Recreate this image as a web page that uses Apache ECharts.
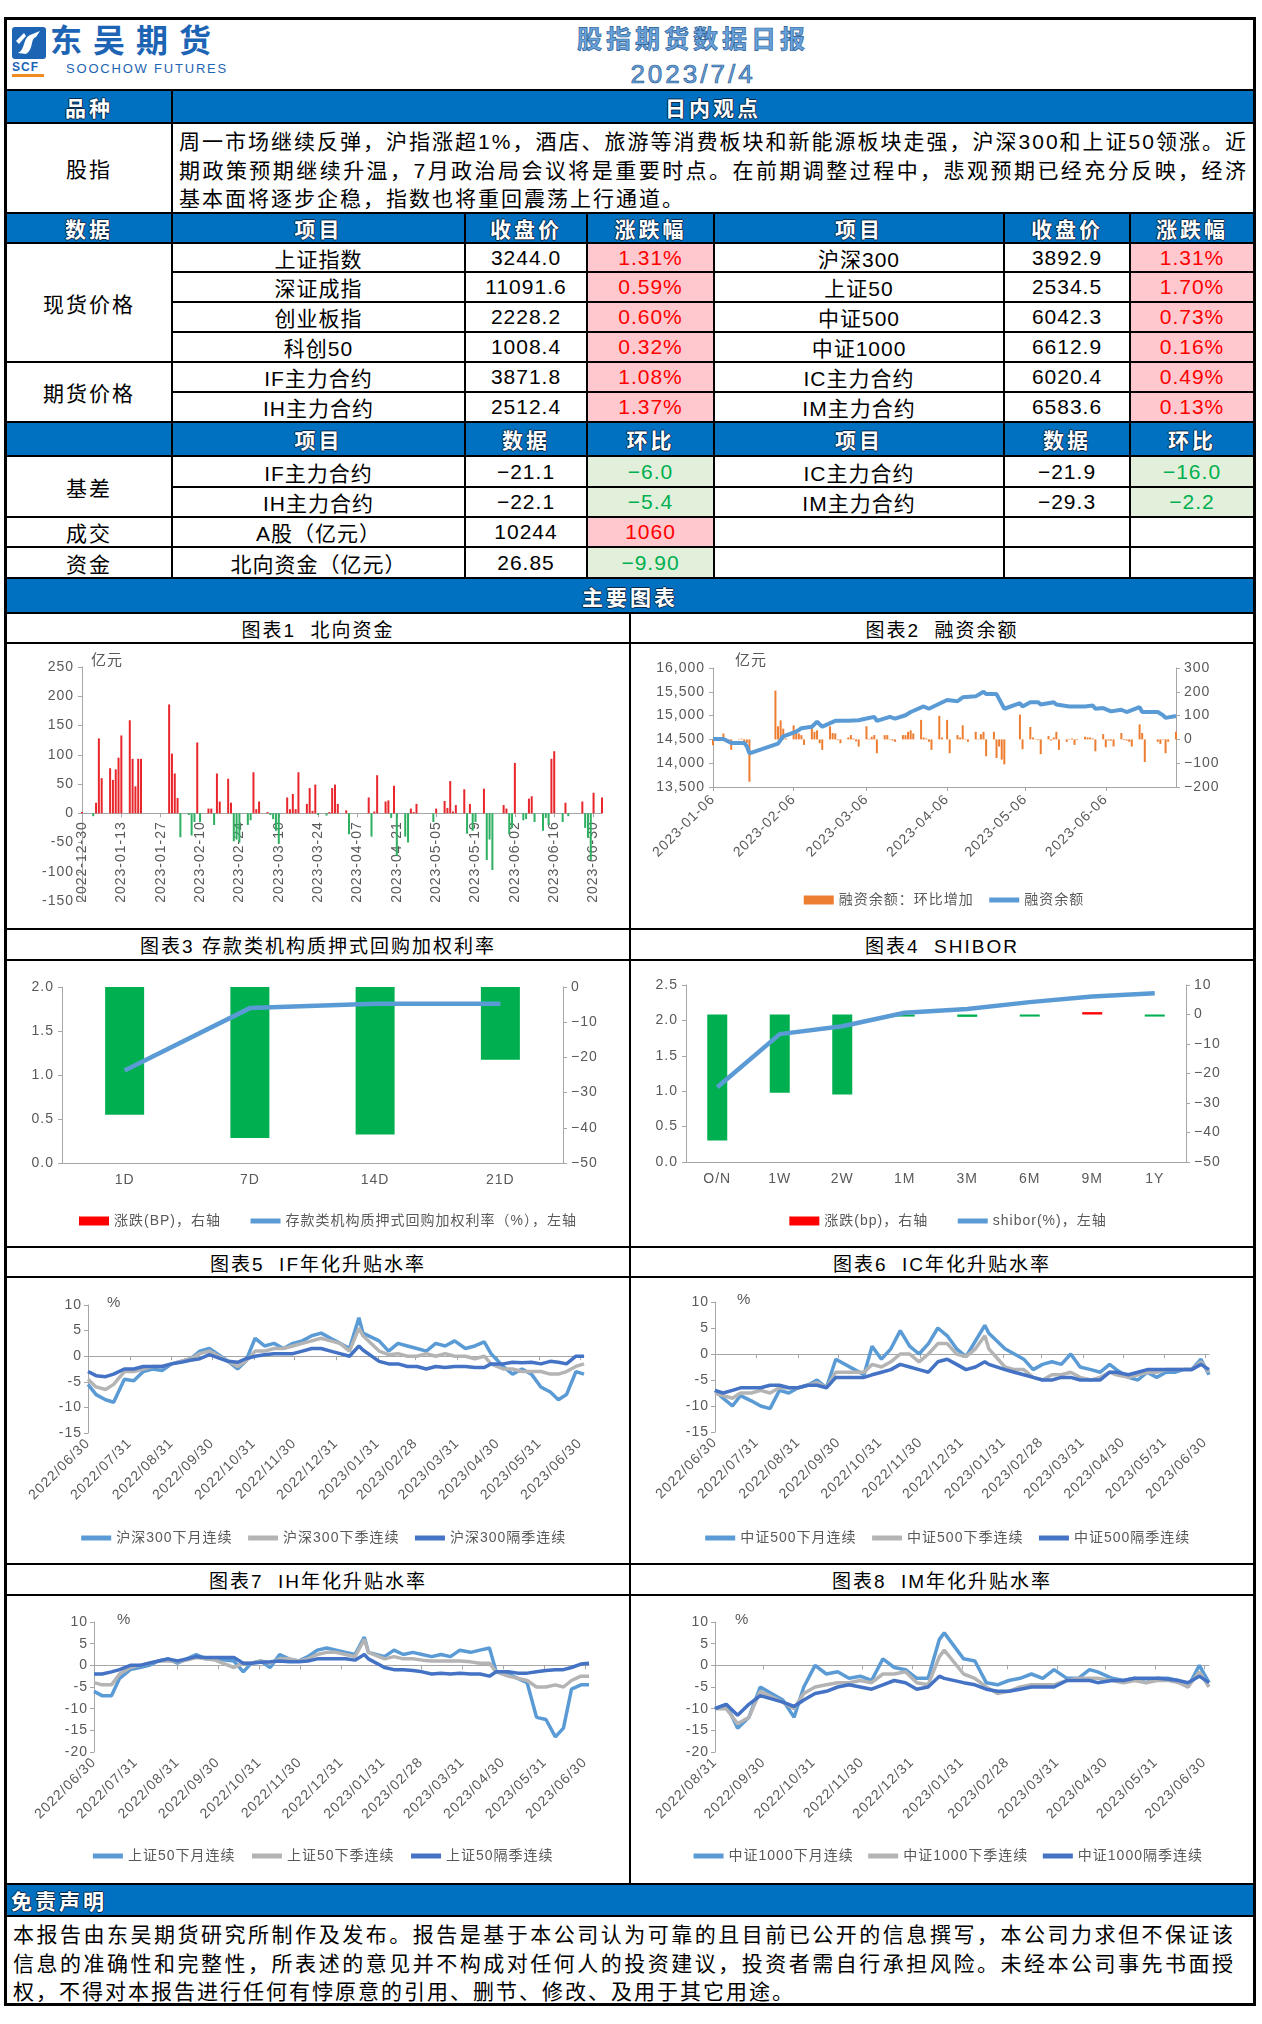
<!DOCTYPE html>
<html>
<head>
<meta charset="utf-8">
<title>股指期货数据日报</title>
<script src="https://cdn.jsdelivr.net/npm/echarts@6.0.0/dist/echarts.min.js"></script>
<style>
  html, body { margin: 0; padding: 0; background: #fff; }
  body { width: 1262px; height: 2024px; position: relative; overflow: hidden;
         font-family: 'Liberation Sans', 'Noto Sans CJK SC', sans-serif; }
  .b { position: absolute; box-sizing: border-box; border: 1px solid #000; display: flex;
       align-items: center; justify-content: center; font-size: 21px; letter-spacing: 1px;
       white-space: nowrap; overflow: hidden; background: #fff; color: #000; }
  .hd { background: #0070c0; color: #fff; font-weight: bold; letter-spacing: 3px;
        text-shadow: -1px 0 #0b2a4a, 1px 0 #0b2a4a, 0 1px #0b2a4a, 0 -1px #0b2a4a; }
  .up { background: #ffc7ce; color: #ff0000; }
  .dn { background: #e2efda; color: #00b050; }
  .tt { font-size: 19px; letter-spacing: 2px; }
  .lbl { letter-spacing: 2px; }
  .left { justify-content: flex-start; padding-left: 4px; }
  .para { display: block; padding: 4px 5px 0 6px; letter-spacing: 2px; line-height: 28.5px; white-space: normal; }
  .para .j { text-align: justify; text-align-last: justify; }
  .ch { position: absolute; left: 0; top: 0; width: 100%; height: 100%; }
  .abs { position: absolute; white-space: nowrap; }
</style>
</head>
<body>
<script>
// ---------- table data ----------
var spotNamesL = ['上证指数', '深证成指', '创业板指', '科创50'];
var spotCloseL = [3244.0, 11091.6, 2228.2, 1008.4];
var spotChgL = [1.31, 0.59, 0.60, 0.32];
var spotNamesR = ['沪深300', '上证50', '中证500', '中证1000'];
var spotCloseR = [3892.9, 2534.5, 6042.3, 6612.9];
var spotChgR = [1.31, 1.70, 0.73, 0.16];
var futNamesL = ['IF主力合约', 'IH主力合约'];
var futCloseL = [3871.8, 2512.4];
var futChgL = [1.08, 1.37];
var futNamesR = ['IC主力合约', 'IM主力合约'];
var futCloseR = [6020.4, 6583.6];
var futChgR = [0.49, 0.13];
var basisNamesL = ['IF主力合约', 'IH主力合约'];
var basisValL = [-21.1, -22.1];
var basisChgL = [-6.0, -5.4];
var basisNamesR = ['IC主力合约', 'IM主力合约'];
var basisValR = [-21.9, -29.3];
var basisChgR = [-16.0, -2.2];
var turnover = ['A股（亿元）', 10244, 1060];
var northFlow = ['北向资金（亿元）', 26.85, -9.90];

var viewLines = [
  '周一市场继续反弹，沪指涨超1%，酒店、旅游等消费板块和新能源板块走强，沪深300和上证50领涨。近',
  '期政策预期继续升温，7月政治局会议将是重要时点。在前期调整过程中，悲观预期已经充分反映，经济',
  '基本面将逐步企稳，指数也将重回震荡上行通道。'
];
var disclaimerLines = [
  '本报告由东吴期货研究所制作及发布。报告是基于本公司认为可靠的且目前已公开的信息撰写，本公司力求但不保证该',
  '信息的准确性和完整性，所表述的意见并不构成对任何人的投资建议，投资者需自行承担风险。未经本公司事先书面授',
  '权，不得对本报告进行任何有悖原意的引用、删节、修改、及用于其它用途。'
];

// ---------- chart 1: 北向资金 ----------
var nbDates = ['2022-12-30','2023-01-03','2023-01-04','2023-01-05','2023-01-06','2023-01-09','2023-01-10','2023-01-11','2023-01-12','2023-01-13',
  '2023-01-16','2023-01-17','2023-01-18','2023-01-19','2023-01-20','2023-01-30','2023-01-31','2023-02-01','2023-02-02','2023-02-03',
  '2023-02-06','2023-02-07','2023-02-08','2023-02-09','2023-02-10','2023-02-13','2023-02-14','2023-02-15','2023-02-16','2023-02-17',
  '2023-02-20','2023-02-21','2023-02-22','2023-02-23','2023-02-24','2023-02-27','2023-02-28','2023-03-01','2023-03-02','2023-03-03',
  '2023-03-06','2023-03-07','2023-03-08','2023-03-09','2023-03-10','2023-03-13','2023-03-14','2023-03-15','2023-03-16','2023-03-17',
  '2023-03-20','2023-03-21','2023-03-22','2023-03-23','2023-03-24','2023-03-27','2023-03-28','2023-03-29','2023-03-30','2023-03-31',
  '2023-04-03','2023-04-04','2023-04-11','2023-04-12','2023-04-13','2023-04-14','2023-04-17','2023-04-18','2023-04-19','2023-04-20',
  '2023-04-21','2023-04-24','2023-04-25','2023-04-26','2023-04-27','2023-04-28','2023-05-04','2023-05-05','2023-05-08','2023-05-09',
  '2023-05-10','2023-05-11','2023-05-12','2023-05-15','2023-05-16','2023-05-17','2023-05-18','2023-05-19','2023-05-22','2023-05-23',
  '2023-05-24','2023-05-25','2023-05-29','2023-05-30','2023-05-31','2023-06-01','2023-06-02','2023-06-05','2023-06-06','2023-06-07',
  '2023-06-08','2023-06-09','2023-06-12','2023-06-13','2023-06-14','2023-06-15','2023-06-16','2023-06-19','2023-06-20','2023-06-21',
  '2023-06-26','2023-06-27','2023-06-28','2023-06-29','2023-06-30','2023-07-03'];
var nbValues = [2,-5,18,128,60,77,57,75,95,133,
  159,93,46,93,93,186,102,68,26,-41,
  -3,-38,-15,121,-15,8,8,-20,68,20,
  59,18,-48,-45,-50,-20,-12,70,7,20,
  2,-3,-10,-30,-52,27,7,33,7,70,
  16,43,4,49,-3,-4,2,43,49,16,
  5,-36,27,-40,3,65,20,22,-8,47,
  -73,-40,-50,8,2,16,-15,8,21,9,
  55,3,14,41,-35,16,-30,-15,42,-80,
  -45,-97,14,8,-36,-25,86,-12,-10,25,
  29,-15,-30,-8,-20,93,106,-15,18,-5,
  20,-25,-42,-80,35,27];
var nbTicks = ['2022-12-30','2023-01-13','2023-01-27','2023-02-10','2023-02-24','2023-03-10','2023-03-24',
  '2023-04-07','2023-04-21','2023-05-05','2023-05-19','2023-06-02','2023-06-16','2023-06-30'];

// ---------- chart 2: 融资余额 ----------
var finBarDates = ['2023-01-06','2023-01-09','2023-01-10','2023-01-11','2023-01-12','2023-01-13','2023-01-16','2023-01-17','2023-01-18','2023-01-19',
  '2023-01-20','2023-01-30','2023-01-31','2023-02-01','2023-02-02','2023-02-03','2023-02-06','2023-02-07','2023-02-08','2023-02-09',
  '2023-02-10','2023-02-13','2023-02-14','2023-02-15','2023-02-16','2023-02-17','2023-02-20','2023-02-21','2023-02-22','2023-02-23',
  '2023-02-24','2023-02-27','2023-02-28','2023-03-01','2023-03-02','2023-03-03','2023-03-06','2023-03-07','2023-03-08','2023-03-09',
  '2023-03-10','2023-03-13','2023-03-14','2023-03-15','2023-03-16','2023-03-17','2023-03-20','2023-03-21','2023-03-22','2023-03-23',
  '2023-03-24','2023-03-27','2023-03-28','2023-03-29','2023-03-30','2023-03-31','2023-04-03','2023-04-04','2023-04-06','2023-04-07',
  '2023-04-10','2023-04-11','2023-04-12','2023-04-13','2023-04-14','2023-04-17','2023-04-18','2023-04-19','2023-04-20','2023-04-21',
  '2023-04-24','2023-04-25','2023-04-26','2023-04-27','2023-04-28','2023-05-04','2023-05-05','2023-05-08','2023-05-09','2023-05-10',
  '2023-05-11','2023-05-12','2023-05-15','2023-05-16','2023-05-17','2023-05-18','2023-05-19','2023-05-22','2023-05-23','2023-05-24',
  '2023-05-25','2023-05-26','2023-05-29','2023-05-30','2023-05-31','2023-06-01','2023-06-02','2023-06-05','2023-06-06','2023-06-07',
  '2023-06-08','2023-06-09','2023-06-12','2023-06-13','2023-06-14','2023-06-15','2023-06-16','2023-06-19','2023-06-20','2023-06-21',
  '2023-06-26','2023-06-27','2023-06-28','2023-06-29','2023-06-30','2023-07-03'];
var finBarValues = [-25,5,25,3,-5,-44,2,3,-15,-15,
  -178,205,55,80,45,4,59,38,25,18,
  -23,52,32,38,-16,-44,55,27,25,-3,
  -16,8,18,4,-8,-30,55,2,11,18,
  -58,18,18,2,-5,-10,18,18,32,38,
  25,82,8,4,-10,-44,99,8,82,-58,
  18,8,59,2,-10,32,2,22,32,-71,
  32,-78,-30,-85,-105,104,-41,52,8,2,
  -3,-62,14,-5,8,32,-44,-10,2,4,
  -23,-3,11,8,8,4,-50,22,-33,-5,
  -5,-30,27,-3,-5,-10,-30,63,27,-95,
  -10,-19,2,-58,-10,32];
var finLineDates = ['2023-01-06','2023-01-10','2023-01-13','2023-01-18','2023-01-19','2023-01-20','2023-01-31','2023-02-02','2023-02-07','2023-02-09',
  '2023-02-13','2023-02-15','2023-02-17','2023-02-22','2023-02-27','2023-03-03','2023-03-06','2023-03-09','2023-03-10','2023-03-15',
  '2023-03-17','2023-03-21','2023-03-23','2023-03-28','2023-03-30','2023-04-06','2023-04-10','2023-04-12','2023-04-17','2023-04-20',
  '2023-04-21','2023-04-25','2023-04-28','2023-05-04','2023-05-05','2023-05-08','2023-05-11','2023-05-12','2023-05-17','2023-05-18',
  '2023-05-23','2023-05-29','2023-06-01','2023-06-02','2023-06-05','2023-06-08','2023-06-12','2023-06-14','2023-06-19','2023-06-20',
  '2023-06-26','2023-06-28','2023-06-29','2023-07-03'];
var finLineValues = [14507,14507,14425,14425,14356,14206,14411,14562,14664,14733,
  14767,14870,14767,14890,14890,14904,14938,14973,14890,14973,
  14938,15007,15075,15192,15144,15329,15301,15384,15404,15500,
  15452,15452,15144,15260,15192,15281,15281,15233,15281,15233,
  15192,15192,15212,15144,15158,15089,15123,15075,15178,15075,
  15075,15007,14952,14993];
var finTicks = ['2023-01-06','2023-02-06','2023-03-06','2023-04-06','2023-05-06','2023-06-06'];

// ---------- chart 3: 存款类机构质押式回购 ----------
var repoTerms = ['1D', '7D', '14D', '21D'];
var repoRate = [1.05, 1.76, 1.81, 1.81];
var repoChg = [-36.3, -42.9, -41.9, -20.7];

// ---------- chart 4: SHIBOR ----------
var shiborTerms = ['O/N', '1W', '2W', '1M', '3M', '6M', '9M', '1Y'];
var shiborRate = [1.057, 1.806, 1.918, 2.109, 2.160, 2.258, 2.337, 2.384];
var shiborChg = [-42.7, -26.5, -27.1, -0.7, -0.8, -0.7, 0.8, -0.7];

// ---------- charts 5-7: 年化升贴水率 ----------
var spreadDates = ['2022/06/30','2022/07/06','2022/07/13','2022/07/19','2022/07/27','2022/08/03','2022/08/10','2022/08/17','2022/08/24','2022/08/31',
  '2022/09/07','2022/09/14','2022/09/21','2022/09/28','2022/10/12','2022/10/19','2022/10/25','2022/11/01','2022/11/08','2022/11/15',
  '2022/11/22','2022/11/29','2022/12/06','2022/12/13','2022/12/20','2022/12/27','2023/01/03','2023/01/10','2023/01/17','2023/01/20',
  '2023/02/01','2023/02/08','2023/02/15','2023/02/22','2023/03/01','2023/03/08','2023/03/15','2023/03/22','2023/03/29','2023/04/06',
  '2023/04/13','2023/04/20','2023/04/25','2023/05/04','2023/05/11','2023/05/18','2023/05/25','2023/06/01','2023/06/08','2023/06/14',
  '2023/06/20','2023/06/27','2023/07/03'];
var spreadTicks = ['2022/06/30','2022/07/31','2022/08/31','2022/09/30','2022/10/31','2022/11/30','2022/12/31',
  '2023/01/31','2023/02/28','2023/03/31','2023/04/30','2023/05/31','2023/06/30'];

var ifNext = [-5.5,-7.5,-8.5,-9,-4.5,-4.8,-3,-2.5,-2.8,-1.5,-1,-0.5,1,1.5,-1,-2.5,-1,3.5,2,2.5,
  1.5,2.5,3,4,4.5,3.5,2.5,1.5,7.5,4.5,3,1,2.5,2,1.5,1,2.5,2,3,1.5,
  2,2.8,0.5,-2,-3.5,-2.5,-3.5,-6,-7,-8.5,-7.5,-3,-3.5];
var ifQtr = [-4.5,-6,-6.5,-5.5,-3,-3,-2.5,-2,-2,-1.5,-1,-0.5,0.5,1,-1,-2,-1,1,1,1.5,
  1.5,2,2.5,3,3.5,3,2.5,1,5.5,4,1,0.3,0.5,0,0,0.5,0,0.5,0,0,
  -0.5,0,-1.5,-2.5,-2.5,-3,-3,-3,-3.5,-3.5,-3,-2,-1.5];
var ifFar = [-3,-3.8,-4,-3.5,-2.5,-2.5,-2,-2,-2,-1.5,-1.2,-0.8,-0.5,0.3,-1,-1.2,-0.5,0,0.3,0.5,
  0.5,0.5,1,1.5,1.5,1,0.5,0,2,1.2,-1,-1.5,-1.5,-2,-2,-2.5,-2,-2.2,-2,-2,
  -2.2,-2.2,-1.5,-1.5,-1.2,-1.3,-1.2,-1.5,-1,-1.2,-1.5,0,0];

var icNext = [-7,-8.5,-10,-8,-9,-10,-10.5,-7,-7.5,-6.5,-6,-5,-6.5,-1,-3,-4,1.5,-1,1,4.5,
  1.5,0,2,5,3.5,1,-0.5,2.5,5.5,4,1,0,-1,-3,-2,-1.5,-2,0,-2.5,-3,
  -3.5,-2,-3,-4.5,-5,-3.5,-4.5,-3.5,-3.5,-3,-3,-1,-4];
var icQtr = [-7.5,-8,-8.5,-7.5,-7.5,-7,-7.5,-6.5,-6.5,-6.5,-6,-5.5,-6.5,-3.5,-3.5,-3.5,-2,-2.5,-1.5,0,
  0,-1.5,0,2,2,0,-0.5,1,3.5,1,-2.5,-3,-3,-4.5,-5,-4,-4,-3.5,-4.5,-5,
  -4.5,-3.5,-4,-4.5,-4,-3.5,-3.5,-3,-3,-3,-3,-1.5,-3.5];
var icFar = [-7,-7.5,-7,-6.5,-6.5,-6.5,-6,-6,-6.5,-6.5,-6,-6,-6.5,-4.5,-4.5,-4.5,-4,-3.5,-3,-2,
  -2.5,-3,-3.5,-1.5,-1,-2,-3,-2.5,-1.5,-2,-3,-3.5,-4,-4.5,-5,-5,-4.5,-4.5,-5,-5,
  -5,-3.5,-3.5,-4,-3.5,-3,-3,-3,-3,-3,-3,-2,-3];

var ihNext = [-6,-7,-7,-3,-1,-0.5,0,1,1.5,0.5,1.5,2.5,1.5,1.5,1,-1.5,0.5,1,-0.5,2.5,
  1.5,1,2,3.5,4,3.5,3,2.5,6.5,3,2,3.5,2.5,3,2.5,2,2.5,2,3.5,3,
  3.5,4,-1.5,-2,-3,-4,-12,-12.5,-16.5,-14.5,-5.5,-4.5,-4.5];
var ihQtr = [-4,-4.5,-4.5,-2,-0.5,0,0.5,1,1,0.8,1.2,1.8,1.5,1.2,-0.5,0.5,0.5,1,0.5,1.5,
  1.5,1,1.5,2.5,3,3,2.5,2,6,3,1.5,2,1.5,1.5,1.2,1,1,1,1,0.8,
  0.5,0.5,-1.5,-2.5,-3,-3.5,-5,-5,-4.5,-5,-3.5,-2.5,-2.5];
var ihFar = [-2,-2,-1.5,-1,0,0,0.5,1,1.5,1,1.5,2,1.8,1.8,1.8,0.5,0.5,0.7,0.8,1,
  0.8,0.8,1,1.5,1.5,1.5,1.5,1.2,2.5,1.5,-0.5,-1,-1,-1.2,-1.5,-2,-1.8,-2,-1.8,-2,
  -2,-2.5,-1.5,-1.5,-1.8,-1.8,-1.5,-1.2,-1,-1,-0.5,0.3,0.5];

// ---------- chart 8: IM ----------
var imDates = ['2022/08/31','2022/09/07','2022/09/14','2022/09/21','2022/09/28','2022/10/12','2022/10/19','2022/10/25','2022/11/01','2022/11/08',
  '2022/11/15','2022/11/22','2022/11/29','2022/12/06','2022/12/13','2022/12/20','2022/12/27','2023/01/03','2023/01/10','2023/01/17',
  '2023/01/20','2023/02/01','2023/02/08','2023/02/15','2023/02/22','2023/03/01','2023/03/08','2023/03/15','2023/03/22','2023/03/29',
  '2023/04/06','2023/04/13','2023/04/20','2023/04/25','2023/05/04','2023/05/11','2023/05/18','2023/05/25','2023/06/01','2023/06/08',
  '2023/06/14','2023/06/20','2023/06/27','2023/07/03'];
var imTicks = ['2022/08/31','2022/09/30','2022/10/31','2022/11/30','2022/12/31',
  '2023/01/31','2023/02/28','2023/03/31','2023/04/30','2023/05/31','2023/06/30'];
var imNext = [-10,-9,-14.5,-12,-5,-8,-12,-5,0,-2,-1.5,-3,-2.5,-3.5,1.5,-0.5,-1,-3,-3,6,
  7.5,1.5,1,-4,-4.5,-3.5,-3,-2,-3,-1,-3,-3,-1,-1.5,-3,-3.5,-3,-4,-3,-3,
  -3.5,-5,0,-4];
var imQtr = [-10,-10,-13.5,-12,-6,-8.5,-10,-6.5,-5,-4.5,-4,-4,-3.5,-4,-2,-2,-1.5,-4,-4.5,2,
  3.5,-2,-3,-5,-6.5,-6,-5,-4.5,-4.5,-4.5,-3.5,-3,-3,-3,-3.5,-4,-3.5,-4,-3.5,-3.5,
  -4,-5,-1.5,-5];
var imFar = [-10,-9,-11.5,-9,-7,-8.5,-9.5,-8,-6.5,-6,-5,-4.5,-5,-5.5,-4.5,-3.5,-4,-5.5,-5,-2.5,
  -3,-4,-4.5,-5.5,-6,-6,-5.5,-5,-5,-5,-3.5,-3.5,-3.5,-4,-3.5,-3.5,-3,-3,-3,-3.2,
  -3.5,-4,-2.5,-4];

// ---------- layout ----------
var C = [6, 172, 465, 587, 714, 1004, 1130, 1254];
var FONT = "'Liberation Sans','Noto Sans CJK SC',sans-serif";
var GRAY = '#595959';
var AXC = '#A6A6A6';
var RED = '#E8262B';
var GREEN = '#2EAF62';

function box(x1, y1, x2, y2, html, cls) {
  var d = document.createElement('div');
  d.className = 'b ' + (cls || '');
  d.style.left = x1 + 'px';
  d.style.top = y1 + 'px';
  d.style.width = (x2 - x1) + 'px';
  d.style.height = (y2 - y1) + 'px';
  d.innerHTML = html == null ? '' : html;
  document.body.appendChild(d);
  return d;
}
function abs(x, y, html, css) {
  var d = document.createElement('div');
  d.className = 'abs';
  d.style.left = x + 'px';
  d.style.top = y + 'px';
  d.style.cssText += css;
  d.innerHTML = html;
  document.body.appendChild(d);
  return d;
}
function fmt(v, n) { return v.toFixed(n).replace('-', '−'); }

// outer frame
var fr = document.createElement('div');
fr.style.cssText = 'position:absolute;left:4px;top:17px;width:1252px;height:1989px;box-sizing:border-box;border:2px solid #000;';
document.body.appendChild(fr);

// header
box(6, 19, 1254, 90, '');
abs(12, 27, '<svg width="34" height="32" viewBox="0 0 34 32"><rect x="0" y="0" width="34" height="32" rx="3" fill="#1d64b4"/>' +
  '<path d="M6 26 C14 22 10 12 18 8 L28 4 L24 10 C18 12 22 22 14 27 Z" fill="#fff"/>' +
  '<path d="M4 14 L12 6 L14 9 L7 17 Z" fill="#fff"/></svg>', '');
abs(12, 60, 'SCF', 'font:bold 12px ' + FONT + ';color:#1d64b4;letter-spacing:1px;');
abs(12, 74, '', 'width:32px;height:3px;background:#f08c1e;');
abs(50, 22, '东吴期货', 'font:bold 32px ' + FONT + ';color:#1d64b4;letter-spacing:11px;line-height:38px;');
abs(66, 61, 'SOOCHOW FUTURES', 'font:13px ' + FONT + ';color:#1d64b4;letter-spacing:1.8px;');
abs(440, 23, '股指期货数据日报', 'width:506px;text-align:center;font:bold 25px ' + FONT +
  ';letter-spacing:4px;line-height:32px;color:#6aa3dc;-webkit-text-stroke:0.7px #2a5d93;');
abs(440, 58, '2023/7/4', 'width:506px;text-align:center;font:26px ' + FONT +
  ';letter-spacing:3px;line-height:32px;color:#6aa3dc;-webkit-text-stroke:0.7px #2a5d93;');

box(C[0], 90, C[1], 123, '品种', 'hd');
box(C[1], 90, C[7], 123, '日内观点', 'hd');
box(C[0], 123, C[1], 213, '股指', 'lbl');
box(C[1], 123, C[7], 213, '<div class="j">' + viewLines[0] + '</div><div class="j">' + viewLines[1] +
  '</div><div>' + viewLines[2] + '</div>', 'para');

// spot / futures table
['数据', '项目', '收盘价', '涨跌幅', '项目', '收盘价', '涨跌幅'].forEach(function (t, i) {
  box(C[i], 213, C[i + 1], 243, t, 'hd');
});
var rowY = [243, 272, 302, 332, 362, 392, 422];
var namesL = spotNamesL.concat(futNamesL), closeL = spotCloseL.concat(futCloseL), chgL = spotChgL.concat(futChgL);
var namesR = spotNamesR.concat(futNamesR), closeR = spotCloseR.concat(futCloseR), chgR = spotChgR.concat(futChgR);
box(C[0], 243, C[1], 362, '现货价格', 'lbl');
box(C[0], 362, C[1], 422, '期货价格', 'lbl');
for (var r = 0; r < 6; r++) {
  var y1 = rowY[r], y2 = rowY[r + 1];
  box(C[1], y1, C[2], y2, namesL[r]);
  box(C[2], y1, C[3], y2, fmt(closeL[r], 1));
  box(C[3], y1, C[4], y2, fmt(chgL[r], 2) + '%', chgL[r] >= 0 ? 'up' : 'dn');
  box(C[4], y1, C[5], y2, namesR[r]);
  box(C[5], y1, C[6], y2, fmt(closeR[r], 1));
  box(C[6], y1, C[7], y2, fmt(chgR[r], 2) + '%', chgR[r] >= 0 ? 'up' : 'dn');
}
['', '项目', '数据', '环比', '项目', '数据', '环比'].forEach(function (t, i) {
  box(C[i], 422, C[i + 1], 456, t, 'hd');
});
var bY = [456, 487, 517];
box(C[0], 456, C[1], 517, '基差', 'lbl');
for (var k = 0; k < 2; k++) {
  box(C[1], bY[k], C[2], bY[k + 1], basisNamesL[k]);
  box(C[2], bY[k], C[3], bY[k + 1], fmt(basisValL[k], 1));
  box(C[3], bY[k], C[4], bY[k + 1], fmt(basisChgL[k], 1), basisChgL[k] >= 0 ? 'up' : 'dn');
  box(C[4], bY[k], C[5], bY[k + 1], basisNamesR[k]);
  box(C[5], bY[k], C[6], bY[k + 1], fmt(basisValR[k], 1));
  box(C[6], bY[k], C[7], bY[k + 1], fmt(basisChgR[k], 1), basisChgR[k] >= 0 ? 'up' : 'dn');
}
box(C[0], 517, C[1], 547, '成交', 'lbl');
box(C[1], 517, C[2], 547, turnover[0]);
box(C[2], 517, C[3], 547, String(turnover[1]));
box(C[3], 517, C[4], 547, String(turnover[2]), turnover[2] >= 0 ? 'up' : 'dn');
box(C[0], 547, C[1], 578, '资金', 'lbl');
box(C[1], 547, C[2], 578, northFlow[0]);
box(C[2], 547, C[3], 578, fmt(northFlow[1], 2));
box(C[3], 547, C[4], 578, fmt(northFlow[2], 2), northFlow[2] >= 0 ? 'up' : 'dn');
[517, 547].forEach(function (y, i) {
  var y2 = i ? 578 : 547;
  box(C[4], y, C[5], y2, ''); box(C[5], y, C[6], y2, ''); box(C[6], y, C[7], y2, '');
});

// chart section
box(6, 578, 1254, 613, '主要图表', 'hd');
var titles = [['图表1&nbsp;&nbsp;北向资金', '图表2&nbsp;&nbsp;融资余额'],
  ['图表3&nbsp;存款类机构质押式回购加权利率', '图表4&nbsp;&nbsp;SHIBOR'],
  ['图表5&nbsp;&nbsp;IF年化升贴水率', '图表6&nbsp;&nbsp;IC年化升贴水率'],
  ['图表7&nbsp;&nbsp;IH年化升贴水率', '图表8&nbsp;&nbsp;IM年化升贴水率']];
var secY = [[613, 643, 929], [929, 960, 1247], [1247, 1277, 1564], [1564, 1595, 1884]];
var cells = [];
secY.forEach(function (s, i) {
  box(6, s[0], 630, s[1], titles[i][0], 'tt');
  box(630, s[0], 1254, s[1], titles[i][1], 'tt');
  [[6, 630], [630, 1254]].forEach(function (xx) {
    var c = box(xx[0], s[1], xx[1], s[2], '');
    var inner = document.createElement('div');
    inner.className = 'ch';
    c.appendChild(inner);
    cells.push(inner);
  });
});
box(6, 1884, 1254, 1916, '免责声明', 'hd left');
box(6, 1916, 1254, 2004, '<div class="j" style="width:1222px">' + disclaimerLines[0] +
  '</div><div class="j" style="width:1222px">' + disclaimerLines[1] + '</div><div>' + disclaimerLines[2] + '</div>', 'para');

// ---------- chart helpers ----------
function pad(n) { return n < 10 ? '0' + n : '' + n; }
function calDays(a, b, sep) {
  var out = [];
  var t = Date.UTC(+a.slice(0, 4), +a.slice(5, 7) - 1, +a.slice(8, 10));
  var e = Date.UTC(+b.slice(0, 4), +b.slice(5, 7) - 1, +b.slice(8, 10));
  for (; t <= e; t += 86400000) {
    var d = new Date(t);
    out.push(d.getUTCFullYear() + sep + pad(d.getUTCMonth() + 1) + sep + pad(d.getUTCDate()));
  }
  return out;
}
function tickFn(ticks) {
  var s = {};
  ticks.forEach(function (t) { s[t] = 1; });
  return function (i, v) { return !!s[v]; };
}
function lookup(dates, vals) {
  var m = {};
  dates.forEach(function (d, i) { m[d] = vals[i]; });
  return m;
}
var txt = { color: GRAY, fontSize: 14, fontFamily: FONT };
function yAx(extra) {
  return Object.assign({
    type: 'value',
    axisLine: { show: true, lineStyle: { color: AXC } },
    axisTick: { show: true, length: 4, lineStyle: { color: AXC } },
    axisLabel: Object.assign({ margin: 6 }, txt),
    splitLine: { show: false }
  }, extra);
}
// legend entry for a line series: hide the marker, keep a thick stroke
function lineLegend(name) { return { name: name, itemStyle: { opacity: 0 }, lineStyle: { width: 5 } }; }

// chart 1
(function () {
  var cats = calDays('2022-12-30', '2023-07-03', '-');
  var m = lookup(nbDates, nbValues);
  var el = cells[0];
  var grid = { left: 75, right: 27, top: 23, bottom: 27 };
  var gh = el.clientHeight - grid.top - grid.bottom;
  var below = gh * 150 / 400;
  var ch = echarts.init(el);
  ch.setOption({
    animation: false,
    grid: Object.assign({ outerBoundsMode: 'none' }, grid),
    xAxis: {
      type: 'category', data: cats, boundaryGap: false,
      axisLine: { lineStyle: { color: AXC } },
      axisTick: { interval: tickFn(nbTicks), length: 4, lineStyle: { color: AXC } },
      axisLabel: Object.assign({ interval: tickFn(nbTicks), rotate: 90, margin: 8 - below }, txt)
    },
    yAxis: yAx({ min: -150, max: 250, interval: 50, axisLabel: Object.assign({ margin: 8 }, txt) }),
    series: [{
      type: 'bar', barWidth: 2,
      data: cats.map(function (d) {
        return m[d] === undefined ? null : { value: m[d], itemStyle: { color: m[d] >= 0 ? RED : GREEN } };
      })
    }],
    graphic: [{ type: 'text', left: 84, top: 9, style: { text: '亿元', fill: GRAY, fontSize: 15, fontFamily: FONT } }]
  });
})();

// chart 2
(function () {
  var cats = calDays('2023-01-06', '2023-07-03', '-');
  var mb = lookup(finBarDates, finBarValues);
  var ml = lookup(finLineDates, finLineValues);
  var ch = echarts.init(cells[1]);
  ch.setOption({
    animation: false,
    grid: { left: 82, right: 77, top: 24, bottom: 141, outerBoundsMode: 'none' },
    legend: {
      top: 244, left: 'center', itemWidth: 30, itemHeight: 9, itemGap: 22,
      textStyle: { color: GRAY, fontSize: 14, fontFamily: FONT },
      data: [{ name: '融资余额：环比增加', icon: 'rect' }, lineLegend('融资余额')]
    },
    xAxis: {
      type: 'category', data: cats, boundaryGap: false,
      axisLine: { onZero: false, lineStyle: { color: AXC } },
      axisTick: { interval: tickFn(finTicks), length: 4, lineStyle: { color: AXC } },
      axisLabel: Object.assign({ interval: tickFn(finTicks), rotate: 45, margin: 10 }, txt)
    },
    yAxis: [
      yAx({ min: 13500, max: 16000, interval: 500,
        axisLabel: Object.assign({ margin: 8, formatter: function (v) { return v.toLocaleString('en-US'); } }, txt) }),
      yAx({ min: -200, max: 300, interval: 100, position: 'right',
        axisLabel: Object.assign({ margin: 8, formatter: function (v) { return String(v).replace('-', '−'); } }, txt) })
    ],
    series: [
      { name: '融资余额：环比增加', type: 'bar', yAxisIndex: 1, barWidth: 2, itemStyle: { color: '#ED7D31' },
        data: cats.map(function (d) { return mb[d] === undefined ? null : mb[d]; }) },
      { name: '融资余额', type: 'line', yAxisIndex: 0, symbol: 'none', connectNulls: true,
        lineStyle: { color: '#5B9BD5', width: 4 }, itemStyle: { color: '#5B9BD5' },
        data: cats.map(function (d) { return ml[d] === undefined ? null : ml[d]; }) }
    ],
    graphic: [{ type: 'text', left: 104, top: 9, style: { text: '亿元', fill: GRAY, fontSize: 15, fontFamily: FONT } }]
  });
})();

// charts 3 & 4
function rateChart(el, cats, rates, chgs, grid, lmax, rmax, barW, barName, lineName) {
  var ch = echarts.init(el);
  ch.setOption({
    animation: false,
    grid: Object.assign({ outerBoundsMode: 'none' }, grid),
    legend: {
      top: 248, left: 'center', itemWidth: 30, itemHeight: 9, itemGap: 36,
      textStyle: { color: GRAY, fontSize: 14, fontFamily: FONT },
      data: [{ name: barName, icon: 'rect' }, lineLegend(lineName)]
    },
    xAxis: {
      type: 'category', data: cats,
      axisLine: { onZero: false, lineStyle: { color: AXC } },
      axisTick: { length: 4, lineStyle: { color: AXC } },
      axisLabel: Object.assign({ margin: 10 }, txt)
    },
    yAxis: [
      yAx({ min: 0, max: lmax, interval: 0.5,
        axisLabel: Object.assign({ margin: 8, formatter: function (v) { return v.toFixed(1); } }, txt) }),
      yAx({ min: -50, max: rmax, interval: 10, position: 'right',
        axisLabel: Object.assign({ margin: 8, formatter: function (v) { return String(v).replace('-', '−'); } }, txt) })
    ],
    series: [
      { name: barName, type: 'bar', yAxisIndex: 1, barWidth: barW, itemStyle: { color: '#FF0000' },
        data: chgs.map(function (v) { return { value: v, itemStyle: { color: v >= 0 ? '#FF0000' : '#00B050' } }; }) },
      { name: lineName, type: 'line', yAxisIndex: 0, symbol: 'none',
        lineStyle: { color: '#5B9BD5', width: 4.5 }, itemStyle: { color: '#5B9BD5' }, data: rates }
    ]
  });
}
rateChart(cells[2], repoTerms, repoRate, repoChg, { left: 55, right: 66, top: 26, bottom: 83 }, 2, 0, 39,
  '涨跌(BP)，右轴', '存款类机构质押式回购加权利率（%），左轴');
rateChart(cells[3], shiborTerms, shiborRate, shiborChg, { left: 55, right: 67, top: 24, bottom: 84 }, 2.5, 10, 20,
  '涨跌(bp)，右轴', 'shibor(%)，左轴');

// charts 5-8
function spreadChart(el, start, ticks, dates, sets, names, ymin, grid, pctLeft) {
  var cats = calDays(start, '2023/07/03', '/');
  var colors = ['#5B9BD5', '#B4B4B4', '#4472C4'];
  var ch = echarts.init(el);
  ch.setOption({
    animation: false,
    grid: Object.assign({ outerBoundsMode: 'none' }, grid),
    legend: {
      top: 248, left: 'center', itemWidth: 30, itemHeight: 8, itemGap: 22,
      textStyle: { color: GRAY, fontSize: 14, fontFamily: FONT }, data: names.map(lineLegend)
    },
    xAxis: {
      type: 'category', data: cats, boundaryGap: false,
      axisLine: { lineStyle: { color: AXC } },
      axisTick: { interval: tickFn(ticks), length: 4, lineStyle: { color: AXC } },
      axisLabel: Object.assign({ interval: tickFn(ticks), rotate: 45, margin: 8 }, txt)
    },
    yAxis: yAx({ min: ymin, max: 10, interval: 5 }),
    series: sets.map(function (vals, i) {
      var m = lookup(dates, vals);
      return {
        name: names[i], type: 'line', symbol: 'none', connectNulls: true,
        lineStyle: { color: colors[i], width: 3.5 }, itemStyle: { color: colors[i] },
        data: cats.map(function (d) { return m[d] === undefined ? null : m[d]; })
      };
    }),
    graphic: [{ type: 'text', left: pctLeft, top: grid.top - 10, style: { text: '%', fill: GRAY, fontSize: 15, fontFamily: FONT } }]
  });
}
spreadChart(cells[4], '2022/06/30', spreadTicks, spreadDates, [ifNext, ifQtr, ifFar],
  ['沪深300下月连续', '沪深300下季连续', '沪深300隔季连续'], -15, { left: 81, right: 45, top: 27, bottom: 130 }, 100);
spreadChart(cells[5], '2022/06/30', spreadTicks, spreadDates, [icNext, icQtr, icFar],
  ['中证500下月连续', '中证500下季连续', '中证500隔季连续'], -15, { left: 84, right: 44, top: 24, bottom: 131 }, 106);
spreadChart(cells[6], '2022/06/30', spreadTicks, spreadDates, [ihNext, ihQtr, ihFar],
  ['上证50下月连续', '上证50下季连续', '上证50隔季连续'], -20, { left: 87, right: 40, top: 26, bottom: 131 }, 110);
spreadChart(cells[7], '2022/08/31', imTicks, imDates, [imNext, imQtr, imFar],
  ['中证1000下月连续', '中证1000下季连续', '中证1000隔季连续'], -20, { left: 84, right: 44, top: 26, bottom: 131 }, 104);
</script>
</body>
</html>
